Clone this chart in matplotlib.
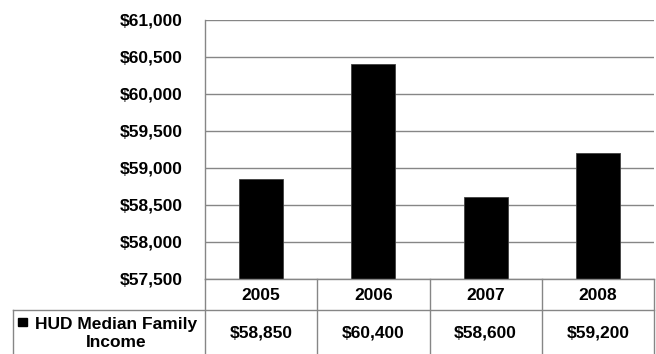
import matplotlib
matplotlib.use("Agg")
import matplotlib.pyplot as plt
from matplotlib.patches import Rectangle
from matplotlib.ticker import FuncFormatter

# ---------------------------------------------------------------------------
# Data
# ---------------------------------------------------------------------------
years = ["2005", "2006", "2007", "2008"]
income = [58850, 60400, 58600, 59200]
series_label = "HUD Median Family\nIncome"
y_ticks = [57500, 58000, 58500, 59000, 59500, 60000, 60500, 61000]

plt.rcParams["font.family"] = ["Liberation Sans", "DejaVu Sans"]
plt.rcParams["font.weight"] = "bold"
FS = 12.5
GRID = "#868686"

W, H = 656, 354
fig = plt.figure(figsize=(W / 100, H / 100), dpi=100)

# plot area in pixel coordinates
left, right, top, bottom = 205, 654, 20, 278.5
ax = fig.add_axes([left / W, 1 - bottom / H, (right - left) / W, (bottom - top) / H])

x = range(len(years))
ax.bar(x, income, width=0.39, color="black", edgecolor="#404040", linewidth=0.6, zorder=3)
ax.set_xlim(-0.5, len(years) - 0.5)
ax.set_ylim(y_ticks[0], y_ticks[-1])
ax.set_yticks(y_ticks)
ax.yaxis.set_major_formatter(FuncFormatter(lambda v, _: f"${v:,.0f}"))
ax.tick_params(axis="y", length=0, pad=16, labelsize=FS)
ax.set_xticks([])
ax.grid(axis="y", color=GRID, linewidth=1.0, zorder=0)
for s in ["top", "right", "bottom"]:
    ax.spines[s].set_visible(False)
ax.spines["left"].set_color(GRID)
ax.spines["left"].set_linewidth(1.0)

# ---------------------------------------------------------------------------
# Data table under the chart (figure pixel coords -> fractions)
# ---------------------------------------------------------------------------
def fx(px):
    return px / W

def fy(py):
    return 1 - py / H

row_mid = 310
tab_bottom = 354
label_left = 13
col_w = (right - left) / len(years)

line_kw = dict(color=GRID, linewidth=1.0, transform=fig.transFigure)
fig.add_artist(plt.Line2D([fx(left), fx(right)], [fy(bottom), fy(bottom)], **line_kw))
fig.add_artist(plt.Line2D([fx(label_left), fx(right)], [fy(row_mid), fy(row_mid)], **line_kw))
fig.add_artist(plt.Line2D([fx(label_left), fx(label_left)], [fy(row_mid), fy(tab_bottom)], **line_kw))
for i in range(len(years) + 1):
    xp = left + i * col_w
    fig.add_artist(plt.Line2D([fx(xp), fx(xp)], [fy(bottom), fy(tab_bottom)], **line_kw))

for i, (yr, val) in enumerate(zip(years, income)):
    cx = left + (i + 0.5) * col_w
    fig.text(fx(cx), fy((bottom + row_mid) / 2 + 1), yr, ha="center", va="center",
             fontsize=FS, fontweight="bold")
    fig.text(fx(cx), fy((row_mid + tab_bottom) / 2 + 1), f"${val:,.0f}", ha="center",
             va="center", fontsize=FS, fontweight="bold")

# legend key + series name
fig.add_artist(Rectangle((fx(18), fy(326)), 9 / W, 8 / H, color="black",
                         transform=fig.transFigure))
fig.text(fx(116), fy(333.5), series_label, ha="center", va="center",
         multialignment="center", fontsize=FS, fontweight="bold", linespacing=1.3)

fig.savefig("out.png", dpi=100)
